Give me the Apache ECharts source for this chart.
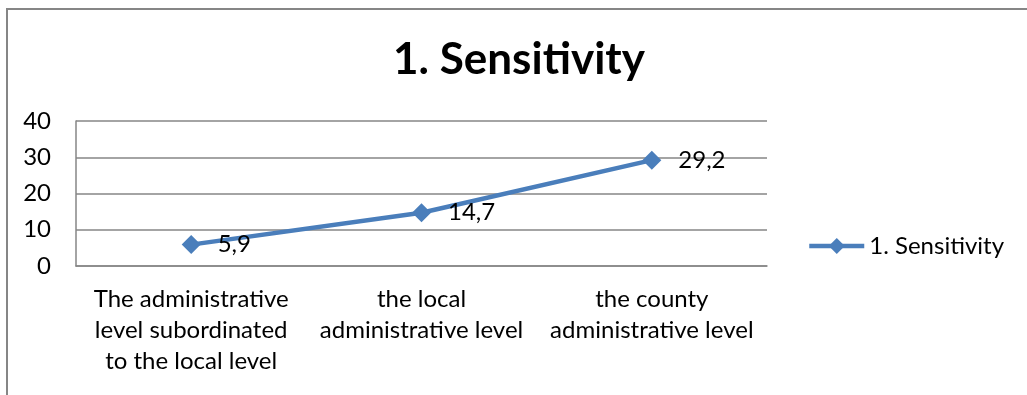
<!DOCTYPE html>
<html>
<head>
<meta charset="utf-8">
<script src="https://cdn.jsdelivr.net/npm/echarts@6/dist/echarts.min.js"></script>
<style>
  html, body { margin: 0; padding: 0; background: #fff; }
  #chart { width: 1027px; height: 395px; }
</style>
</head>
<body>
<div id="chart"></div>
<script>
// Sensitivity by administrative level
const categories = [
  'The administrative\nlevel subordinated\nto the local level',
  'the local\nadministrative level',
  'the county\nadministrative level'
];
const seriesName = '1. Sensitivity';
const values = [5.9, 14.7, 29.2];
const yTicks = { min: 0, max: 40, interval: 10 };

const FONT = 'Lato, "Liberation Sans", sans-serif';
const GRID_COLOR = '#868686';
const LINE_COLOR = '#4a7ebb';

const chart = echarts.init(document.getElementById('chart'), null, { renderer: 'canvas' });
chart.setOption({
  animation: false,
  backgroundColor: '#fff',
  title: {
    text: seriesName,
    left: 514,
    textAlign: 'center',
    top: 33,
    textStyle: { fontFamily: FONT, fontSize: 44, fontWeight: 'bold', color: '#000' }
  },
  graphic: [{
    type: 'rect',
    shape: { x: 7, y: 9, width: 1100, height: 500 },
    style: { fill: null, stroke: GRID_COLOR, lineWidth: 2 },
    silent: true
  }],
  legend: {
    left: 807,
    top: 234,
    padding: 0,
    itemWidth: 55,
    itemHeight: 20,
    itemGap: 4,
    lineStyle: { width: 4.5 },
    textStyle: { fontFamily: FONT, fontSize: 24, color: '#000' },
    data: [seriesName]
  },
  grid: { left: 76, right: 260, top: 121, bottom: 129 },
  xAxis: {
    type: 'category',
    data: categories,
    boundaryGap: true,
    axisLine: { lineStyle: { color: GRID_COLOR, width: 1.5 } },
    axisTick: { show: false },
    axisLabel: {
      interval: 0,
      margin: 18,
      fontFamily: FONT,
      fontSize: 24,
      lineHeight: 31,
      color: '#000'
    }
  },
  yAxis: {
    type: 'value',
    min: yTicks.min,
    max: yTicks.max,
    interval: yTicks.interval,
    axisLine: { show: true, lineStyle: { color: GRID_COLOR, width: 1.5 } },
    axisTick: { show: false },
    splitLine: { lineStyle: { color: GRID_COLOR, width: 1.5 } },
    axisLabel: { margin: 25, fontFamily: FONT, fontSize: 24, color: '#000' }
  },
  series: [{
    name: seriesName,
    type: 'line',
    data: values,
    symbol: 'diamond',
    symbolSize: 19,
    lineStyle: { color: LINE_COLOR, width: 4.5 },
    itemStyle: { color: LINE_COLOR },
    label: {
      show: true,
      position: 'right',
      distance: 17,
      fontFamily: FONT,
      fontSize: 24,
      color: '#000',
      formatter: p => String(p.value).replace('.', ',')
    }
  }]
});
</script>
</body>
</html>
